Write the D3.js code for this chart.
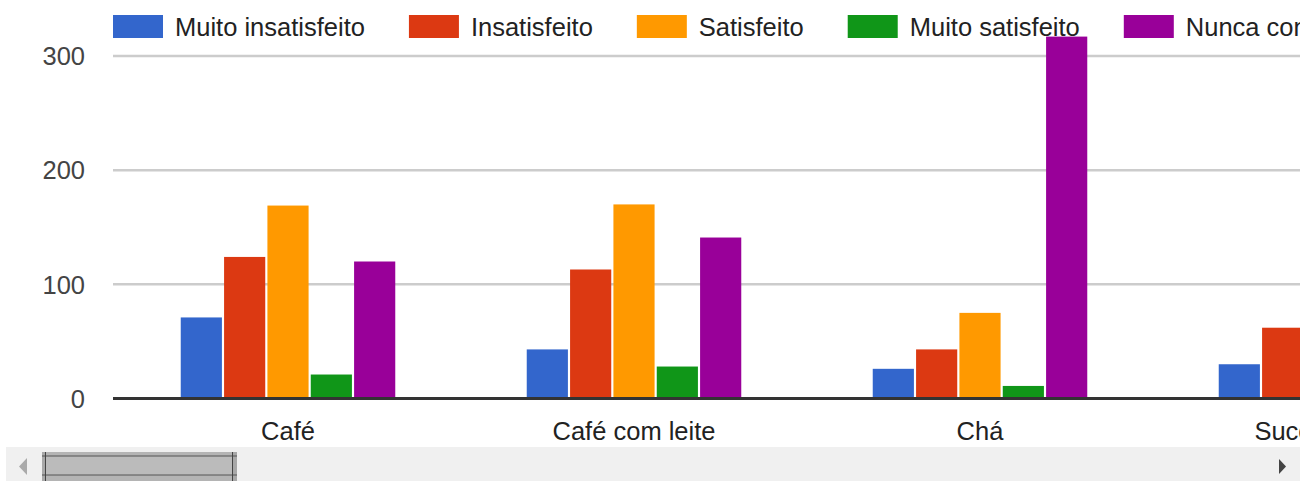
<!DOCTYPE html>
<html>
<head>
<meta charset="utf-8">
<script src="https://cdn.jsdelivr.net/npm/d3@7"></script>
<style>
  html, body { margin:0; padding:0; background:#fff; }
  svg { display:block; font-family: Arial, "Liberation Sans", sans-serif; }
</style>
</head>
<body>
<div id="chart"></div>
<script>
// Kategorien (letzte ist rechts abgeschnitten)
const categories = ["Café", "Café com leite", "Chá", "Suco natural"];
const seriesNames = ["Muito insatisfeito", "Insatisfeito", "Satisfeito", "Muito satisfeito", "Nunca consumi"];
const seriesColors = ["#3366cc", "#dc3912", "#ff9900", "#109618", "#990099"];

// Werte je Serie (Suco: nur die ersten zwei sichtbar)
const muitoInsatisfeito = [71, 43, 26, 30];
const insatisfeito      = [124, 113, 43, 62];
const satisfeito        = [169, 170, 75, null];
const muitoSatisfeito   = [21, 28, 11, null];
const nuncaConsumi      = [120, 141, 317, null];
const seriesValues = [muitoInsatisfeito, insatisfeito, satisfeito, muitoSatisfeito, nuncaConsumi];

const yTicks = [0, 100, 200, 300];

const W = 1314, H = 481;
const CFG = {
  left: 113, right: 1300, base: 398.5, top300: 56,
  font: 25.5, grid: "#cccccc", axis: "#333333", txt: "#444444", legendTxt: "#222222"
};

const svg = d3.select("#chart").append("svg").attr("width", W).attr("height", H);

svg.append("defs").append("clipPath").attr("id", "clip")
  .append("rect").attr("x", 0).attr("y", 0).attr("width", CFG.right).attr("height", 447);

const x0 = d3.scaleBand().domain(categories).range([115, 1499])
  .paddingInner(0.38).paddingOuter(0.19);
const x1 = d3.scaleBand().domain(seriesNames).range([0, x0.bandwidth()]).paddingInner(0.05);
const y = d3.scaleLinear().domain([0, 300]).range([CFG.base, CFG.top300]);

const plot = svg.append("g").attr("clip-path", "url(#clip)");

// Gitterlinien
plot.append("g").selectAll("line").data(yTicks.filter(d => d > 0)).join("line")
  .attr("x1", CFG.left).attr("x2", CFG.right)
  .attr("y1", d => y(d)).attr("y2", d => y(d))
  .attr("stroke", CFG.grid).attr("stroke-width", 2.5);

// Balken
const rows = [];
categories.forEach((c, ci) => seriesNames.forEach((s, si) => {
  const v = seriesValues[si][ci];
  if (v != null) rows.push({ c, s, v, color: seriesColors[si] });
}));
plot.append("g").selectAll("rect").data(rows).join("rect")
  .attr("x", d => x0(d.c) + x1(d.s))
  .attr("width", x1.bandwidth())
  .attr("y", d => y(d.v))
  .attr("height", d => y(0) - y(d.v))
  .attr("fill", d => d.color);

// Nulllinie
plot.append("line")
  .attr("x1", CFG.left).attr("x2", CFG.right)
  .attr("y1", y(0)).attr("y2", y(0))
  .attr("stroke", CFG.axis).attr("stroke-width", 3);

// Y-Achse
svg.append("g").selectAll("text").data(yTicks).join("text")
  .attr("x", 85).attr("y", d => y(d)).attr("dy", "0.36em")
  .attr("text-anchor", "end").attr("font-size", CFG.font).attr("fill", CFG.txt)
  .text(d => d);

// X-Achse Beschriftung
plot.append("g").selectAll("text").data(categories).join("text")
  .attr("x", d => x0(d) + x0.bandwidth() / 2).attr("y", 440)
  .attr("text-anchor", "middle").attr("font-size", CFG.font).attr("fill", CFG.legendTxt)
  .text(d => d);

// Legende
const legend = plot.append("g");
let lx = 113;
seriesNames.forEach((s, i) => {
  legend.append("rect").attr("x", lx).attr("y", 15).attr("width", 50).attr("height", 23)
    .attr("fill", seriesColors[i]);
  const t = legend.append("text").attr("x", lx + 62).attr("y", 36)
    .attr("font-size", CFG.font).attr("fill", CFG.legendTxt).text(s);
  lx += 62 + t.node().getComputedTextLength() + 44;
});

// Scrollleiste
const sb = svg.append("g");
sb.append("rect").attr("x", 6).attr("y", 447).attr("width", 1294).attr("height", 34).attr("fill", "#f0f0f0");
sb.append("path").attr("d", "M27,458 L19,466.5 L27,475 Z").attr("fill", "#aaaaaa");
sb.append("path").attr("d", "M1279,459 L1286,466.5 L1279,474 Z").attr("fill", "#444");
sb.append("rect").attr("x", 42).attr("y", 452).attr("width", 195).attr("height", 29).attr("fill", "#a8a8a8");
sb.append("rect").attr("x", 45).attr("y", 456).attr("width", 188).attr("height", 19).attr("fill", "#bbbbbb");
sb.append("rect").attr("x", 45).attr("y", 452).attr("width", 188).attr("height", 4).attr("fill", "#b4b4b4");
sb.append("rect").attr("x", 45).attr("y", 475).attr("width", 188).attr("height", 6).attr("fill", "#b4b4b4");
[456, 475].forEach(yy => sb.append("line").attr("x1", 42).attr("x2", 237)
  .attr("y1", yy).attr("y2", yy).attr("stroke", "#555").attr("stroke-width", 1));
[45.5, 232.5].forEach(xx => sb.append("line").attr("x1", xx).attr("x2", xx)
  .attr("y1", 452).attr("y2", 481).attr("stroke", "#444").attr("stroke-width", 1));
</script>
</body>
</html>
